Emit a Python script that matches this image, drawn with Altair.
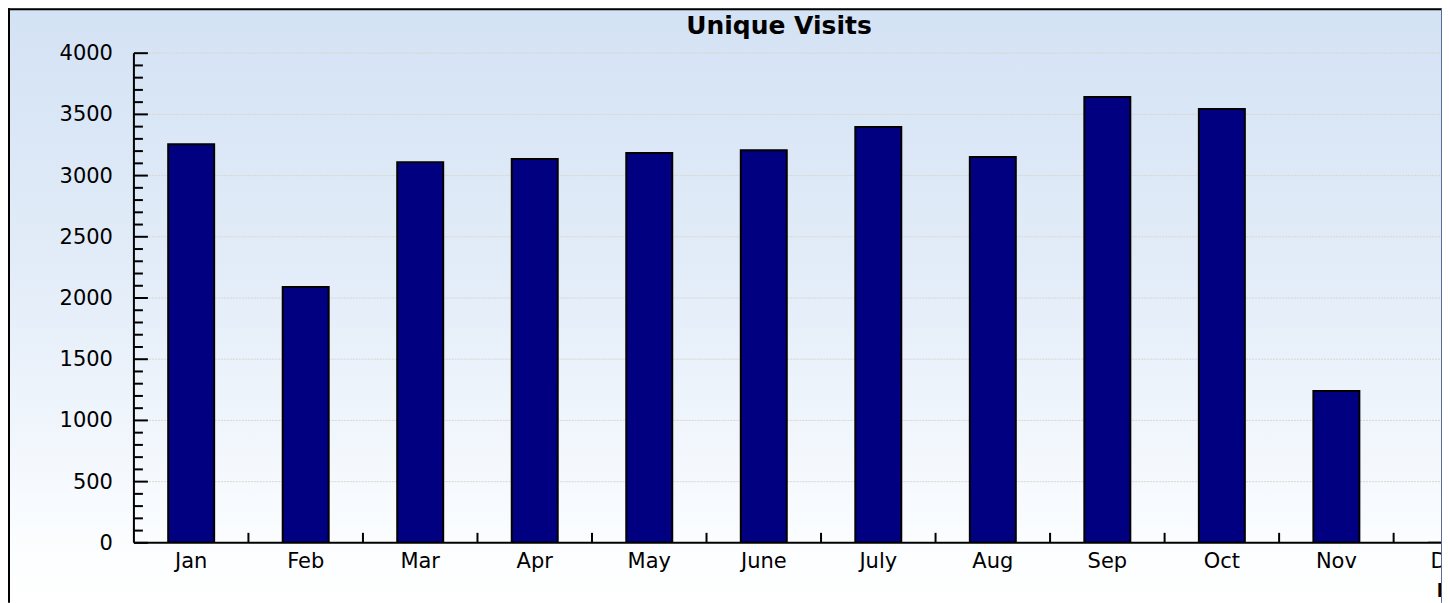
import altair as alt
import pandas as pd

# ---- data ----
months = ["Jan", "Feb", "Mar", "Apr", "May", "June", "July", "Aug", "Sep", "Oct", "Nov", "Dec"]
visits = [3257, 2090, 3110, 3135, 3184, 3208, 3396, 3151, 3641, 3543, 1241, 0]
major_ticks = [0, 500, 1000, 1500, 2000, 2500, 3000, 3500, 4000]
grid_values = [500, 1000, 1500, 2000, 2500, 3000, 3500, 4000]
minor_ticks = [v for v in range(100, 4000, 100) if v % 500 != 0]
chart_title = "Unique Visits"
x_title = "Month"

# ---- layout ----
W = 1309          # visible plot width (page x 134 .. 1443)
H = 490           # plot height (page y 53 .. 543)
STEP = 114.6      # category step
RANGE_END = STEP * len(months)  # band range runs past the visible area (clipped like the reference)
PAD = {"left": 126, "top": 45, "right": 0, "bottom": 60}
FONT = "DejaVu Sans"

df = pd.DataFrame({"month": months, "visits": visits})
one = pd.DataFrame({"k": [0]})

xscale = alt.Scale(domain=months, range=[0, RANGE_END], paddingInner=0, paddingOuter=0)
yscale = alt.Scale(domain=[0, 4000], nice=False, zero=True)

background = alt.Chart(one).mark_rect(
    color=alt.LinearGradient(
        gradient="linear",
        stops=[
            alt.GradientStop(offset=0, color="#d3e2f4"),
            alt.GradientStop(offset=0.5, color="#e5eef9"),
            alt.GradientStop(offset=0.9, color="#fbfdff"),
            alt.GradientStop(offset=1, color="#ffffff"),
        ],
        x1=0, x2=0, y1=0, y2=1,
    ),
    strokeWidth=0,
).encode(
    x=alt.value(-PAD["left"]), x2=alt.value(W),
    y=alt.value(-PAD["top"]), y2=alt.value(H + PAD["bottom"]),
)

grid = alt.Chart(pd.DataFrame({"v": grid_values})).mark_rule(
    color="#d9d6d0", strokeWidth=1, strokeDash=[2, 1]
).encode(
    y=alt.Y("v:Q", scale=yscale, axis=None),
    x=alt.value(0), x2=alt.value(W),
)

bars = alt.Chart(df).mark_bar(
    size=46, color="#000080", stroke="black", strokeWidth=2, clip=True
).encode(
    x=alt.X("month:N", scale=xscale, sort=months, axis=None),
    y=alt.Y("visits:Q", scale=yscale, axis=None),
)

# axis lines
y_axis_line = alt.Chart(one).mark_rule(color="black", strokeWidth=2).encode(
    x=alt.value(0), y=alt.value(0), y2=alt.value(H)
)
x_axis_line = alt.Chart(one).mark_rule(color="black", strokeWidth=2).encode(
    x=alt.value(0), x2=alt.value(W), y=alt.value(H)
)

major = alt.Chart(pd.DataFrame({"v": major_ticks})).mark_rule(
    color="black", strokeWidth=2
).encode(
    y=alt.Y("v:Q", scale=yscale, axis=None),
    x=alt.value(0), x2=alt.value(14),
)

minor = alt.Chart(pd.DataFrame({"v": minor_ticks})).mark_rule(
    color="black", strokeWidth=2
).encode(
    y=alt.Y("v:Q", scale=yscale, axis=None),
    x=alt.value(0), x2=alt.value(9),
)

xticks = alt.Chart(pd.DataFrame({"month": months[1:]})).mark_rule(
    color="black", strokeWidth=2
).encode(
    x=alt.X("month:N", scale=xscale, sort=months, bandPosition=0, axis=None),
    y=alt.value(H), y2=alt.value(H - 10),
)

# tick labels
y_labels = alt.Chart(pd.DataFrame({"v": major_ticks})).mark_text(
    font=FONT, fontSize=21, color="black", align="right", baseline="middle", dx=-21, dy=1
).encode(
    y=alt.Y("v:Q", scale=yscale, axis=None),
    x=alt.value(0),
    text=alt.Text("v:Q", format="d"),
)

x_labels = alt.Chart(df).mark_text(
    font=FONT, fontSize=21, color="black", align="center", baseline="top"
).encode(
    x=alt.X("month:N", scale=xscale, sort=months, axis=None),
    y=alt.value(H + 8),
    text="month:N",
)

x_axis_title = alt.Chart(pd.DataFrame({"t": [x_title]})).mark_text(
    font=FONT, fontSize=20, fontWeight="bold", color="black",
    align="right", baseline="alphabetic",
).encode(
    x=alt.value(RANGE_END), y=alt.value(H + 54), text="t:N"
)

title_text = alt.Chart(pd.DataFrame({"t": [chart_title]})).mark_text(
    font=FONT, fontSize=25, fontWeight="bold", color="black",
    align="center", baseline="middle",
).encode(
    x=alt.value(779.5 - 134), y=alt.value(26 - 53), text="t:N"
)

frame_left = alt.Chart(one).mark_rule(color="black", strokeWidth=2).encode(
    x=alt.value(-PAD["left"] + 1), y=alt.value(-PAD["top"]), y2=alt.value(H + PAD["bottom"])
)
frame_top = alt.Chart(one).mark_rule(color="black", strokeWidth=2).encode(
    y=alt.value(-PAD["top"] + 1), x=alt.value(-PAD["left"]), x2=alt.value(W)
)
frame_right = alt.Chart(one).mark_rule(color="#5a6a96", strokeWidth=1).encode(
    x=alt.value(W - 0.5), y=alt.value(-PAD["top"]), y2=alt.value(H + PAD["bottom"])
)

chart = alt.layer(
    background, grid, bars, y_axis_line, x_axis_line, major, minor, xticks,
    y_labels, x_labels, x_axis_title, title_text, frame_left, frame_top, frame_right
).properties(
    width=W,
    height=H,
    padding=PAD,
    autosize=alt.AutoSizeParams(type="none"),
).configure_view(stroke=None)

chart.save("out.html", embed_options={"renderer": "svg", "actions": False})
